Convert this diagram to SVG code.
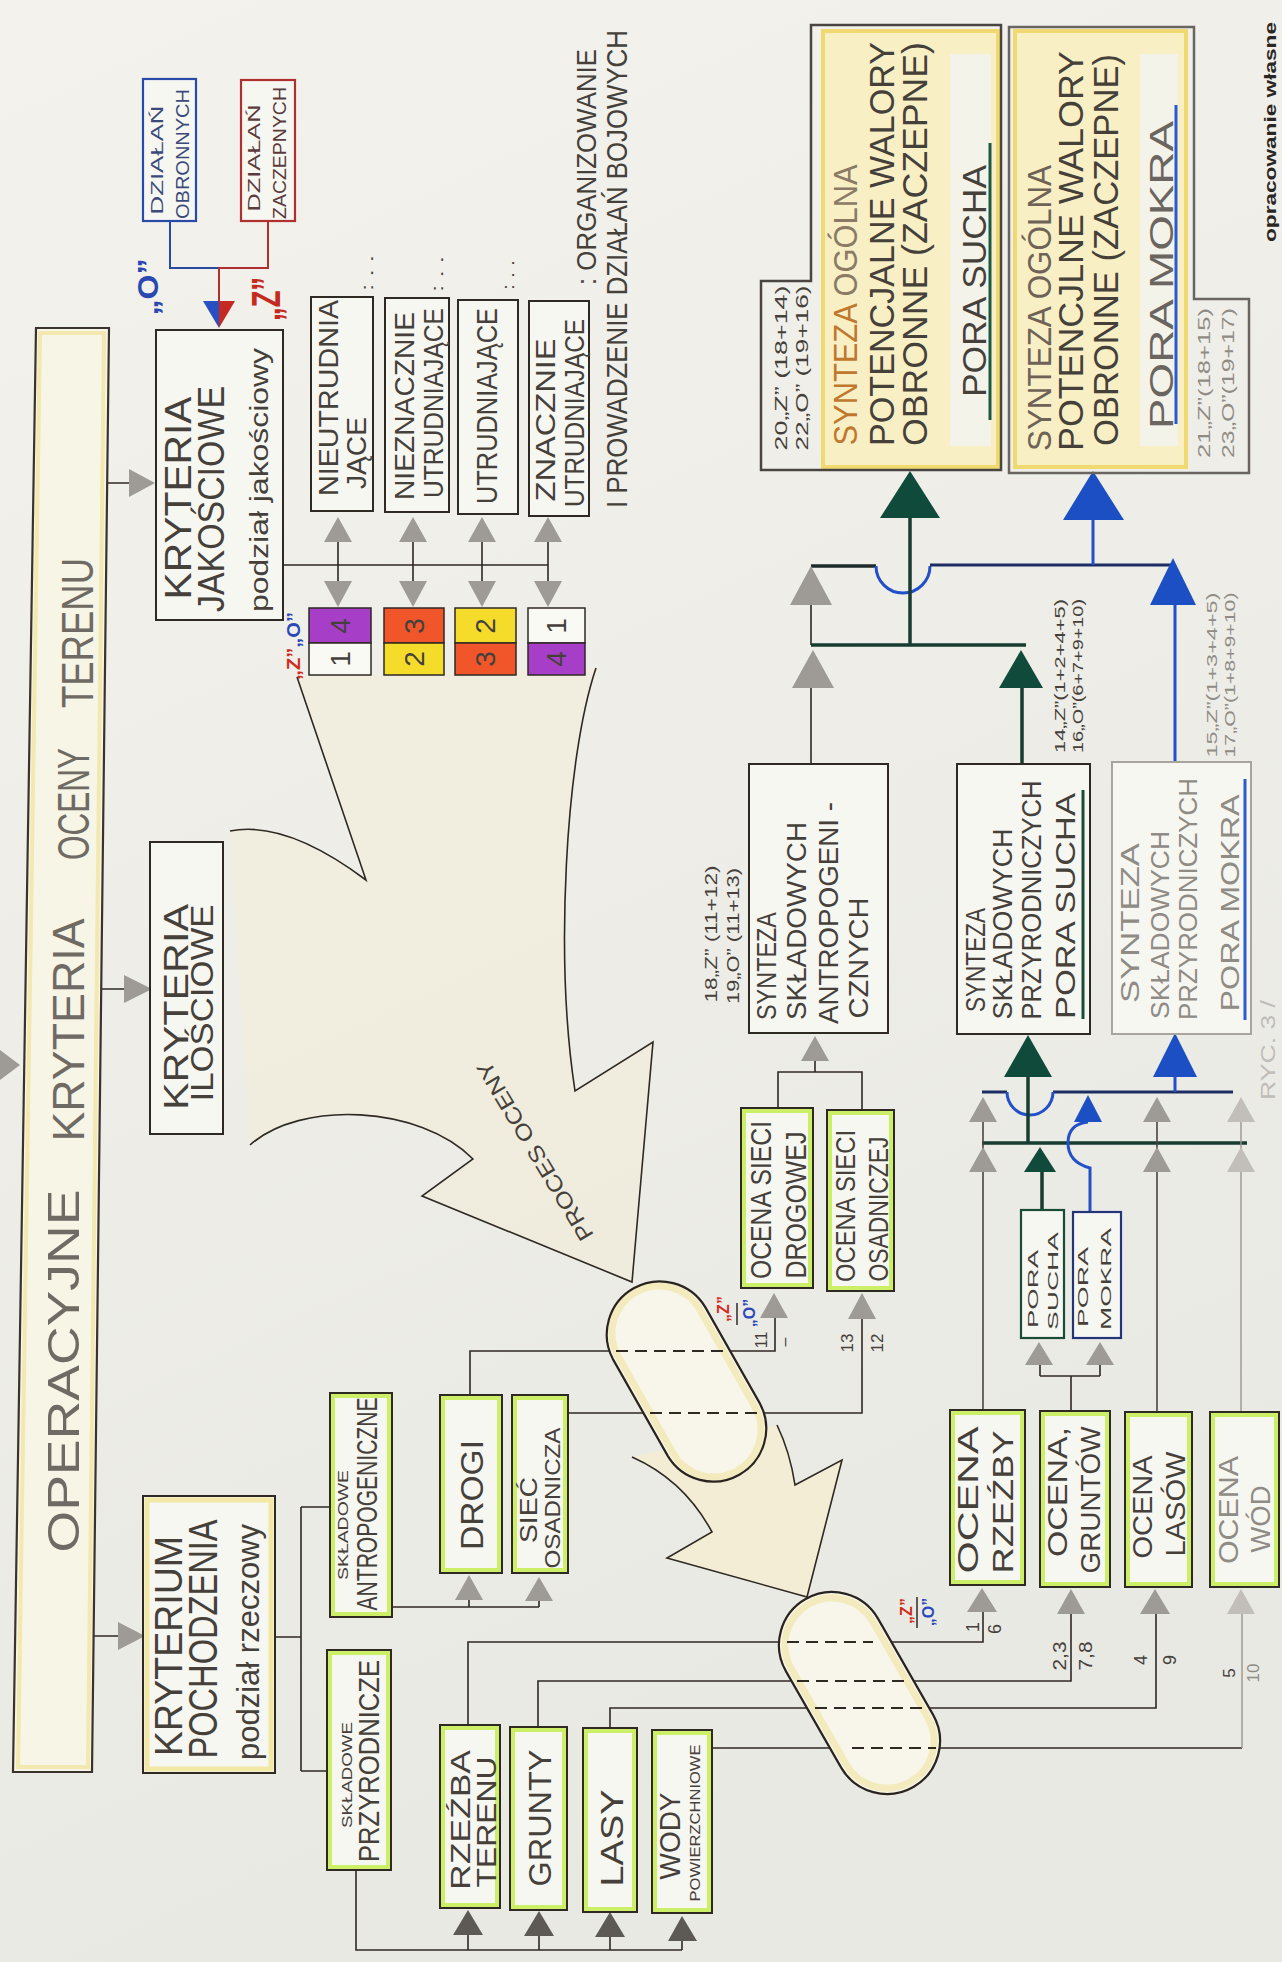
<svg xmlns="http://www.w3.org/2000/svg" width="1282" height="1962" viewBox="0 0 1282 1962">
<defs>
<linearGradient id="paper" x1="0" y1="0" x2="0.3" y2="1">
<stop offset="0" stop-color="#f3f2ec"/>
<stop offset="1" stop-color="#e9e9e4"/>
</linearGradient>
<style>
.ln{fill:none;stroke:#2f2924;stroke-width:1.6}
.lnl{fill:none;stroke:#9a968f;stroke-width:1.4}
.dash{fill:none;stroke:#2f2924;stroke-width:1.8;stroke-dasharray:12 7}
.box{fill:#f7f7f2;stroke:#2f2924;stroke-width:2}
.lime{fill:none;stroke:#c8ec58;stroke-width:4;opacity:.9}
.ylw{fill:none;stroke:#f1e49c;stroke-width:5;opacity:.9}
.tri{fill:#9e9a95}
.tril{fill:#c2bfba}
.trid{fill:#5d5955}
.trig{fill:#0f4a3a}
.trib{fill:#1d4fc4}
.g{stroke:#173d31;stroke-width:3.5;fill:none}
.b{stroke:#2350c8;stroke-width:3;fill:none}
.nv{stroke:#1c2d64;stroke-width:3;fill:none}
.t{font-family:"Liberation Sans",Arial,sans-serif;fill:#45403a;text-anchor:middle;dominant-baseline:central}
.tl{fill:#8f8b85}
.bold{font-weight:bold}
</style>
</defs>

<rect x="0" y="0" width="1282" height="1962" fill="url(#paper)"/>

<!-- process arrows (drawn under the capsules) -->
<g id="process-arrows">
<path d="M297,677 L366,880 Q286,820 230,831 L250,1145 C300,1100 420,1105 473,1159 L422,1196 L632,1282 L653,1042 L575,1091 C555,960 565,760 596,668 Z" fill="#f6efce" opacity=".35"/>
<path d="M297,677 L366,880 Q286,820 230,831" class="ln"/>
<path d="M250,1145 C300,1100 420,1105 473,1159 L422,1196 L632,1282 L653,1042 L575,1091 C555,960 565,760 596,668" class="ln"/>
<text class="t" font-size="22" transform="translate(535,1151) rotate(-121)" textLength="205" lengthAdjust="spacingAndGlyphs">PROCES OCENY</text>
<path d="M632,1457 Q684,1480 712,1532 L667,1558 L807,1597 L842,1460 L795,1485 Q790,1452 777,1425 Z" fill="#f7efc8" opacity=".6"/>
<path d="M632,1457 Q684,1480 712,1532 L667,1558 L807,1597 L842,1460 L795,1485 Q790,1452 777,1425" class="ln"/>
</g>

<!-- evaluation capsules -->
<g id="capsule-1">
<path d="M705.1,1306.9 L760.1,1403.9 A53,53 0 0 1 667.9,1456.1 L612.9,1359.1 A53,53 0 0 1 705.1,1306.9 Z" fill="#f8f6ea"/>
<path d="M699.9,1309.8 L754.9,1406.8 A47,47 0 0 1 673.1,1453.2 L618.1,1356.2 A47,47 0 0 1 699.9,1309.8 Z" fill="none" stroke="#f3ebbe" stroke-width="7"/>
<path d="M705.1,1306.9 L760.1,1403.9 A53,53 0 0 1 667.9,1456.1 L612.9,1359.1 A53,53 0 0 1 705.1,1306.9 Z" fill="none" stroke="#2a2420" stroke-width="2.2"/>
</g>
<g id="capsule-2">
<path d="M878,1618.6 L933,1714.6 A53,53 0 0 1 841,1767.4 L786,1671.4 A53,53 0 0 1 878,1618.6 Z" fill="#f8f6ea"/>
<path d="M872.8,1621.6 L927.8,1717.6 A47,47 0 0 1 846.2,1764.4 L791.2,1668.4 A47,47 0 0 1 872.8,1621.6 Z" fill="none" stroke="#f3ebbe" stroke-width="7"/>
<path d="M878,1618.6 L933,1714.6 A53,53 0 0 1 841,1767.4 L786,1671.4 A53,53 0 0 1 878,1618.6 Z" fill="none" stroke="#2a2420" stroke-width="2.2"/>
</g>

<!-- connectors -->
<g id="connectors">
<path class="ln" d="M107,483 H130 M101,989 H125 M94,1636 H119"/>
<path d="M170,221 V268 H219" fill="none" stroke="#2a4aa0" stroke-width="2"/>
<path d="M268,221 V268 H219 V301" fill="none" stroke="#b03030" stroke-width="2"/>
<path class="ln" d="M283,565 H548 M338,542 V581 M413,542 V581 M482,542 V581 M548,542 V581"/>
<!-- anthropogenic branch -->
<path class="ln" d="M470,1395 V1351 H609 M730,1351 H775 V1318"/>
<path class="dash" d="M616,1351 H728"/>
<path class="ln" d="M568,1413 H644 M764,1413 H862 V1319"/>
<path class="dash" d="M650,1413 H762"/>
<path class="ln" d="M778,1108 V1072 H862 V1110 M815,1072 V1061"/>
<path class="ln" d="M811,764 V688 M811,645 V605"/>
<!-- upper junction -->
<path d="M811,566 H876" stroke="#1e2a2a" stroke-width="3.5" fill="none"/>
<path class="b" d="M876,566 A27,27 0 0 0 930,566"/>
<path class="nv" d="M930,565 H1174"/>
<path class="g" d="M910,518 V645 M811,645 H1026 M1022,688 V764"/>
<path class="b" d="M1093,520 V565 M1175,605 V762" stroke="#2a4aa8"/>
<!-- lower junction -->
<path class="nv" d="M982,1092 H1007 M1053,1092 H1233"/>
<path class="b" d="M1007,1092 A23,23 0 0 0 1053,1092"/>
<path class="g" d="M982,1143 H1247 M1028,1077 V1143 M1042,1172 V1210"/>
<path class="b" d="M1175,1077 V1092 M1090,1212 V1168 Q1068,1162 1068,1143 Q1068,1124 1088,1122"/>
<path d="M983,1410 V1122 M1157,1412 V1122" fill="none" stroke="#4a4540" stroke-width="1.6"/>
<path class="lnl" d="M1241,1412 V1122"/>
<path class="ln" d="M1071,1411 V1376 M1040,1376 H1100 M1040,1376 V1365 M1100,1376 V1365"/>
<!-- natural components through the lower capsule -->
<path class="ln" d="M468,1725 V1642 H779 M891,1642 H983 V1612"/>
<path class="dash" d="M787,1642 H873"/>
<path class="ln" d="M538,1727 V1681 H791 M913,1681 H1071 V1614"/>
<path class="dash" d="M797,1681 H910"/>
<path class="ln" d="M610,1728 V1708 H807 M929,1708 H1156 V1614"/>
<path class="dash" d="M815,1708 H925"/>
<path class="ln" d="M712,1748 H829 M940,1748 H1242"/>
<path class="dash" d="M852,1748 H936"/>
<path class="lnl" d="M1242,1748 V1614"/>
<path class="ln" d="M391,1607 H539 M469,1607 V1600 M539,1607 V1601"/>
<path class="ln" d="M275,1637 H301 M301,1507 V1771 M301,1507 H330 M301,1771 H327"/>
<path class="ln" d="M356,1870 V1950 H682 M468,1950 V1935 M539,1950 V1936 M610,1950 V1937 M682,1950 V1941"/>
</g>

<!-- arrowheads -->
<g id="arrowheads">
<polygon class="tri" points="155,483 129,469 129,497"/>
<polygon class="tri" points="152,989 124,975 124,1003"/>
<polygon class="tri" points="145,1636 118,1622 118,1650"/>
<polygon class="tri" points="20,1065 0,1050 0,1080"/>
<polygon fill="#2a4fc0" points="203,301 219,301 219,328"/>
<polygon fill="#c42a22" points="219,301 235,301 219,328"/>
<polygon class="tri" points="338,517 324,542 352,542"/>
<polygon class="tri" points="413,517 399,542 427,542"/>
<polygon class="tri" points="482,517 468,542 496,542"/>
<polygon class="tri" points="548,517 534,542 562,542"/>
<polygon class="tri" points="338,607 324,581 352,581"/>
<polygon class="tri" points="413,607 399,581 427,581"/>
<polygon class="tri" points="482,607 468,581 496,581"/>
<polygon class="tri" points="548,607 534,581 562,581"/>
<polygon class="tri" points="774,1293 760,1318 788,1318"/>
<polygon class="tri" points="862,1293 848,1319 876,1319"/>
<polygon class="tri" points="815,1036 801,1061 829,1061"/>
<polygon class="tri" points="811,566 790,605 832,605"/>
<polygon class="tri" points="813,650 792,688 834,688"/>
<polygon class="trig" points="910,471 880,518 940,518"/>
<polygon class="trib" points="1093,471 1063,520 1124,520"/>
<polygon class="trib" points="1173,558 1150,605 1196,605"/>
<polygon class="trig" points="1021,650 999,688 1043,688"/>
<polygon class="trig" points="1028,1035 1004,1077 1052,1077"/>
<polygon class="trib" points="1175,1033 1153,1077 1197,1077"/>
<polygon class="tri" points="983,1097 969,1122 997,1122"/>
<polygon class="tri" points="1157,1097 1143,1122 1171,1122"/>
<polygon class="tril" points="1241,1097 1227,1122 1255,1122"/>
<polygon class="trib" points="1088,1095 1074,1122 1102,1122"/>
<polygon class="tri" points="983,1147 969,1172 997,1172"/>
<polygon class="tri" points="1157,1147 1143,1172 1171,1172"/>
<polygon class="tril" points="1241,1147 1227,1172 1255,1172"/>
<polygon class="trig" points="1040,1147 1024,1172 1056,1172"/>
<polygon class="tri" points="1039,1342 1025,1365 1053,1365"/>
<polygon class="tri" points="1100,1342 1086,1365 1114,1365"/>
<polygon class="tri" points="982,1588 967,1612 997,1612"/>
<polygon class="tri" points="1071,1589 1057,1614 1085,1614"/>
<polygon class="tri" points="1155,1589 1140,1614 1170,1614"/>
<polygon class="tril" points="1241,1589 1227,1614 1255,1614"/>
<polygon class="tri" points="469,1575 455,1600 483,1600"/>
<polygon class="tri" points="539,1577 525,1601 553,1601"/>
<polygon class="trid" points="468,1910 453,1935 483,1935"/>
<polygon class="trid" points="539,1911 524,1936 554,1936"/>
<polygon class="trid" points="610,1912 595,1937 625,1937"/>
<polygon class="trid" points="682,1916 668,1941 697,1941"/>
</g>

<!-- title -->
<g id="title">
<polygon points="36,328 109,328 92,1772 13,1772" fill="#f7f5e6" stroke="#3a332d" stroke-width="2.2"/>
<polygon points="40,333 104,333 88,1767 18,1767" fill="none" stroke="#f2e8b0" stroke-width="4"/>
<text class="t" style="fill:#6f6a63" font-size="44" transform="translate(63,1371) rotate(-90)" textLength="363" lengthAdjust="spacingAndGlyphs">OPERACYJNE</text>
<text class="t" style="fill:#6f6a63" font-size="44" transform="translate(68,1030) rotate(-90)" textLength="223" lengthAdjust="spacingAndGlyphs">KRYTERIA</text>
<text class="t" style="fill:#6f6a63" font-size="44" transform="translate(73,804) rotate(-90)" textLength="112" lengthAdjust="spacingAndGlyphs">OCENY</text>
<text class="t" style="fill:#6f6a63" font-size="44" transform="translate(77,633) rotate(-90)" textLength="150" lengthAdjust="spacingAndGlyphs">TERENU</text>
</g>

<!-- qualitative criteria -->
<g id="kryteria-jakosciowe">
<rect class="box" x="156" y="330" width="127" height="290"/>
<text class="t" font-size="37" transform="translate(178,498) rotate(-90)" textLength="203" lengthAdjust="spacingAndGlyphs">KRYTERIA</text>
<text class="t" font-size="37" transform="translate(211,499) rotate(-90)" textLength="226" lengthAdjust="spacingAndGlyphs">JAKOŚCIOWE</text>
<text class="t" font-size="26" transform="translate(259,480) rotate(-90)" textLength="264" lengthAdjust="spacingAndGlyphs">podział jakościowy</text>
</g>
<g id="dzialan-obronnych">
<rect x="143" y="79" width="53" height="142" fill="#f7f7f2" stroke="#2a4aa8" stroke-width="2.2"/>
<text class="t" style="fill:#3b4a7a" font-size="16" transform="translate(157,160) rotate(-90)" textLength="109" lengthAdjust="spacingAndGlyphs">DZIAŁAŃ</text>
<text class="t" style="fill:#3b4a7a" font-size="19" transform="translate(182,154) rotate(-90)" textLength="130" lengthAdjust="spacingAndGlyphs">OBRONNYCH</text>
</g>
<g id="dzialan-zaczepnych">
<rect x="241" y="80" width="54" height="141" fill="#f7f7f2" stroke="#b03030" stroke-width="2.2"/>
<text class="t" style="fill:#5a3a3a" font-size="16" transform="translate(254,158) rotate(-90)" textLength="107" lengthAdjust="spacingAndGlyphs">DZIAŁAŃ</text>
<text class="t" style="fill:#5a3a3a" font-size="19" transform="translate(279,153) rotate(-90)" textLength="132" lengthAdjust="spacingAndGlyphs">ZACZEPNYCH</text>
</g>
<g id="oznaczenia-oz">
<text class="t bold" style="fill:#2a48b0" font-size="30" transform="translate(147,287) rotate(-90)" textLength="57" lengthAdjust="spacingAndGlyphs">„O”</text>
<text class="t bold" style="fill:#c42a20" font-size="40" transform="translate(266,299) rotate(-90)" textLength="44" lengthAdjust="spacingAndGlyphs">„Z”</text>
</g>

<!-- difficulty categories -->
<g id="kat-nieutrudniajace">
<rect class="box" x="311" y="297" width="62" height="214"/>
<text class="t" font-size="28" transform="translate(328,398) rotate(-90)" textLength="196" lengthAdjust="spacingAndGlyphs">NIEUTRUDNIA</text>
<text class="t" font-size="28" transform="translate(356,453) rotate(-90)" textLength="72" lengthAdjust="spacingAndGlyphs">JĄCE</text>
<text class="t" font-size="16" transform="translate(367,273) rotate(-90)" textLength="36" lengthAdjust="spacingAndGlyphs">: . .</text>
</g>
<g id="kat-nieznacznie">
<rect class="box" x="385" y="298" width="64" height="214"/>
<text class="t" font-size="28" transform="translate(404,406) rotate(-90)" textLength="188" lengthAdjust="spacingAndGlyphs">NIEZNACZNIE</text>
<text class="t" font-size="28" transform="translate(433,403) rotate(-90)" textLength="190" lengthAdjust="spacingAndGlyphs">UTRUDNIAJĄCE</text>
<text class="t" font-size="16" transform="translate(437,274) rotate(-90)" textLength="36" lengthAdjust="spacingAndGlyphs">: . .</text>
</g>
<g id="kat-utrudniajace">
<rect class="box" x="458" y="300" width="60" height="214"/>
<text class="t" font-size="30" transform="translate(486,406) rotate(-90)" textLength="196" lengthAdjust="spacingAndGlyphs">UTRUDNIAJĄCE</text>
<text class="t" font-size="16" transform="translate(508,275) rotate(-90)" textLength="30" lengthAdjust="spacingAndGlyphs">: . .</text>
</g>
<g id="kat-znacznie">
<rect class="box" x="529" y="301" width="60" height="215"/>
<text class="t" font-size="27" transform="translate(546,420) rotate(-90)" textLength="163" lengthAdjust="spacingAndGlyphs">ZNACZNIE</text>
<text class="t" font-size="27" transform="translate(575,413) rotate(-90)" textLength="188" lengthAdjust="spacingAndGlyphs">UTRUDNIAJĄCE</text>
</g>
<g id="opis-kategorii">
<text class="t" font-size="28" transform="translate(586,167) rotate(-90)" textLength="236" lengthAdjust="spacingAndGlyphs">: ORGANIZOWANIE</text>
<text class="t" font-size="29" transform="translate(617,269) rotate(-90) scale(0.89,1)">I PROWADZENIE DZIAŁAŃ BOJOWYCH</text>
</g>

<!-- category scores for "Z" and "O" -->
<g id="oceny-kategorii">
<rect x="309" y="608" width="62" height="35" fill="#a63ec8" stroke="#2f2924" stroke-width="1.5"/>
<rect x="309" y="643" width="62" height="32" fill="#fafaf5" stroke="#2f2924" stroke-width="1.5"/>
<rect x="384" y="608" width="60" height="35" fill="#f0562a" stroke="#2f2924" stroke-width="1.5"/>
<rect x="384" y="643" width="60" height="32" fill="#f6dc2a" stroke="#2f2924" stroke-width="1.5"/>
<rect x="455" y="608" width="61" height="35" fill="#f6dc2a" stroke="#2f2924" stroke-width="1.5"/>
<rect x="455" y="643" width="61" height="32" fill="#f0562a" stroke="#2f2924" stroke-width="1.5"/>
<rect x="528" y="608" width="57" height="35" fill="#fafaf5" stroke="#2f2924" stroke-width="1.5"/>
<rect x="528" y="643" width="57" height="32" fill="#a63ec8" stroke="#2f2924" stroke-width="1.5"/>
<text class="t" font-size="28" transform="translate(340,626) rotate(-90)">4</text>
<text class="t" font-size="28" transform="translate(340,659) rotate(-90)">1</text>
<text class="t" font-size="28" transform="translate(414,626) rotate(-90)">3</text>
<text class="t" font-size="28" transform="translate(414,659) rotate(-90)">2</text>
<text class="t" font-size="28" transform="translate(485,626) rotate(-90)">2</text>
<text class="t" font-size="28" transform="translate(485,659) rotate(-90)">3</text>
<text class="t" font-size="28" transform="translate(556,626) rotate(-90)">1</text>
<text class="t" font-size="28" transform="translate(556,659) rotate(-90)">4</text>
<text class="t bold" font-size="19" transform="translate(293,646) rotate(-90)" textLength="68" lengthAdjust="spacingAndGlyphs"><tspan style="fill:#d02a20">„Z”</tspan><tspan style="fill:#2a48b8">„O”</tspan></text>
</g>

<g id="kryteria-ilosciowe">
<rect class="box" x="150" y="842" width="73" height="292"/>
<text class="t" font-size="35" transform="translate(175,1007) rotate(-90)" textLength="206" lengthAdjust="spacingAndGlyphs">KRYTERIA</text>
<text class="t" font-size="32" transform="translate(202,1003) rotate(-90)" textLength="197" lengthAdjust="spacingAndGlyphs">ILOŚCIOWE</text>
</g>

<g id="kryterium-pochodzenia">
<rect class="box" x="143" y="1496" width="132" height="277"/>
<rect class="ylw" x="147" y="1500" width="124" height="269"/>
<text class="t" font-size="39" transform="translate(168,1646) rotate(-90)" textLength="220" lengthAdjust="spacingAndGlyphs">KRYTERIUM</text>
<text class="t" font-size="41" transform="translate(203,1639) rotate(-90)" textLength="239" lengthAdjust="spacingAndGlyphs">POCHODZENIA</text>
<text class="t" font-size="31" transform="translate(248,1642) rotate(-90)" textLength="236" lengthAdjust="spacingAndGlyphs">podział rzeczowy</text>
</g>

<g id="skladowe-antropogeniczne">
<rect class="box" x="330" y="1393" width="62" height="224"/>
<rect class="lime" x="333" y="1396" width="56" height="218"/>
<text class="t" font-size="15" transform="translate(342,1525) rotate(-90)" textLength="110" lengthAdjust="spacingAndGlyphs">SKŁADOWE</text>
<text class="t" font-size="29" transform="translate(367,1504) rotate(-90)" textLength="213" lengthAdjust="spacingAndGlyphs">ANTROPOGENICZNE</text>
</g>
<g id="skladowe-przyrodnicze">
<rect class="box" x="327" y="1650" width="64" height="220"/>
<rect class="lime" x="330" y="1653" width="58" height="214"/>
<text class="t" font-size="15" transform="translate(346,1775) rotate(-90)" textLength="106" lengthAdjust="spacingAndGlyphs">SKŁADOWE</text>
<text class="t" font-size="29" transform="translate(369,1761) rotate(-90)" textLength="202" lengthAdjust="spacingAndGlyphs">PRZYRODNICZE</text>
</g>
<g id="drogi">
<rect class="box" x="440" y="1395" width="62" height="178"/>
<rect class="lime" x="443" y="1398" width="56" height="172"/>
<text class="t" font-size="32" transform="translate(472,1495) rotate(-90)" textLength="110" lengthAdjust="spacingAndGlyphs">DROGI</text>
</g>
<g id="siec-osadnicza">
<rect class="box" x="512" y="1395" width="56" height="178"/>
<rect class="lime" x="515" y="1398" width="50" height="172"/>
<text class="t" font-size="24" transform="translate(528,1510) rotate(-90)" textLength="66" lengthAdjust="spacingAndGlyphs">SIEĆ</text>
<text class="t" font-size="22" transform="translate(552,1498) rotate(-90)" textLength="141" lengthAdjust="spacingAndGlyphs">OSADNICZA</text>
</g>
<g id="rzezba-terenu">
<rect class="box" x="440" y="1725" width="60" height="183"/>
<rect class="lime" x="443" y="1728" width="54" height="177"/>
<text class="t" font-size="28" transform="translate(460,1820) rotate(-90)" textLength="140" lengthAdjust="spacingAndGlyphs">RZEŹBA</text>
<text class="t" font-size="28" transform="translate(486,1822) rotate(-90)" textLength="131" lengthAdjust="spacingAndGlyphs">TERENU</text>
</g>
<g id="grunty">
<rect class="box" x="510" y="1727" width="57" height="183"/>
<rect class="lime" x="513" y="1730" width="51" height="177"/>
<text class="t" font-size="32" transform="translate(540,1818) rotate(-90)" textLength="137" lengthAdjust="spacingAndGlyphs">GRUNTY</text>
</g>
<g id="lasy">
<rect class="box" x="583" y="1728" width="54" height="184"/>
<rect class="lime" x="586" y="1731" width="48" height="178"/>
<text class="t" font-size="32" transform="translate(612,1838) rotate(-90)" textLength="97" lengthAdjust="spacingAndGlyphs">LASY</text>
</g>
<g id="wody">
<rect class="box" x="652" y="1730" width="60" height="183"/>
<rect class="lime" x="655" y="1733" width="54" height="177"/>
<text class="t" font-size="30" transform="translate(669,1836) rotate(-90)" textLength="87" lengthAdjust="spacingAndGlyphs">WODY</text>
<text class="t" font-size="15" transform="translate(694,1823) rotate(-90)" textLength="157" lengthAdjust="spacingAndGlyphs">POWIERZCHNIOWE</text>
</g>

<!-- line numbers and Z/O legends -->
<g id="numeracja">
<text class="t bold" style="fill:#d02a20" font-size="16" transform="translate(723,1309) rotate(-90)">„Z”</text>
<path d="M737,1303 V1325" stroke="#2f2924" stroke-width="1.5"/>
<text class="t bold" style="fill:#2a48b8" font-size="16" transform="translate(749,1313) rotate(-90)">„O”</text>
<text class="t" font-size="16" transform="translate(761,1340) rotate(-90)">11</text>
<text class="t" font-size="16" transform="translate(784,1342) rotate(-90)">–</text>
<text class="t" font-size="17" transform="translate(847,1343) rotate(-90)">13</text>
<text class="t" font-size="17" transform="translate(877,1343) rotate(-90)">12</text>
<text class="t bold" style="fill:#d02a20" font-size="16" transform="translate(906,1611) rotate(-90)">„Z”</text>
<path d="M917,1597 V1628" stroke="#2f2924" stroke-width="1.5"/>
<text class="t bold" style="fill:#2a48b8" font-size="16" transform="translate(928,1612) rotate(-90)">„O”</text>
<text class="t" font-size="18" transform="translate(973,1627) rotate(-90)">1</text>
<text class="t" font-size="18" transform="translate(995,1629) rotate(-90)">6</text>
<text class="t" font-size="18" transform="translate(1060,1656) rotate(-90)" textLength="29" lengthAdjust="spacingAndGlyphs">2,3</text>
<text class="t" font-size="18" transform="translate(1086,1656) rotate(-90)" textLength="29" lengthAdjust="spacingAndGlyphs">7,8</text>
<text class="t" font-size="18" transform="translate(1141,1660) rotate(-90)">4</text>
<text class="t" font-size="18" transform="translate(1170,1660) rotate(-90)">9</text>
<text class="t" font-size="17" transform="translate(1229,1673) rotate(-90)">5</text>
<text class="t tl" font-size="17" transform="translate(1253,1673) rotate(-90)">10</text>
</g>

<!-- anthropogenic evaluation -->
<g id="ocena-sieci-drogowej">
<rect class="box" x="741" y="1108" width="72" height="180"/>
<rect class="lime" x="744" y="1111" width="66" height="174"/>
<text class="t" font-size="30" transform="translate(760,1200) rotate(-90)" textLength="158" lengthAdjust="spacingAndGlyphs">OCENA SIECI</text>
<text class="t" font-size="30" transform="translate(795,1205) rotate(-90)" textLength="147" lengthAdjust="spacingAndGlyphs">DROGOWEJ</text>
</g>
<g id="ocena-sieci-osadniczej">
<rect class="box" x="827" y="1110" width="67" height="181"/>
<rect class="lime" x="830" y="1113" width="61" height="175"/>
<text class="t" font-size="28" transform="translate(845,1206) rotate(-90)" textLength="152" lengthAdjust="spacingAndGlyphs">OCENA SIECI</text>
<text class="t" font-size="28" transform="translate(878,1209) rotate(-90)" textLength="145" lengthAdjust="spacingAndGlyphs">OSADNICZEJ</text>
</g>
<g id="synteza-antropogenicznych">
<rect class="box" x="749" y="764" width="139" height="269"/>
<text class="t" font-size="28" transform="translate(766,966) rotate(-90)" textLength="108" lengthAdjust="spacingAndGlyphs">SYNTEZA</text>
<text class="t" font-size="28" transform="translate(796,921) rotate(-90)" textLength="198" lengthAdjust="spacingAndGlyphs">SKŁADOWYCH</text>
<text class="t" font-size="28" transform="translate(828,913) rotate(-90)" textLength="222" lengthAdjust="spacingAndGlyphs">ANTROPOGENI -</text>
<text class="t" font-size="28" transform="translate(858,958) rotate(-90)" textLength="121" lengthAdjust="spacingAndGlyphs">CZNYCH</text>
<text class="t" font-size="16" transform="translate(711,934) rotate(-90)" textLength="137" lengthAdjust="spacingAndGlyphs">18„Z” (11+12)</text>
<text class="t" font-size="16" transform="translate(733,936) rotate(-90)" textLength="136" lengthAdjust="spacingAndGlyphs">19„O” (11+13)</text>
</g>

<!-- natural synthesis -->
<g id="synteza-przyrodniczych-sucha">
<rect class="box" x="957" y="764" width="133" height="270"/>
<text class="t" font-size="27" transform="translate(976,960) rotate(-90)" textLength="104" lengthAdjust="spacingAndGlyphs">SYNTEZA</text>
<text class="t" font-size="27" transform="translate(1003,924) rotate(-90)" textLength="191" lengthAdjust="spacingAndGlyphs">SKŁADOWYCH</text>
<text class="t" font-size="27" transform="translate(1032,900) rotate(-90)" textLength="239" lengthAdjust="spacingAndGlyphs">PRZYRODNICZYCH</text>
<text class="t" font-size="27" transform="translate(1066,906) rotate(-90)" textLength="226" lengthAdjust="spacingAndGlyphs">PORA SUCHA</text>
<path d="M1083,790 V1019" stroke="#1a4a3a" stroke-width="3"/>
<text class="t" font-size="15" transform="translate(1059,676) rotate(-90)" textLength="154" lengthAdjust="spacingAndGlyphs">14„Z”(1+2+4+5)</text>
<text class="t" font-size="15" transform="translate(1077,676) rotate(-90)" textLength="154" lengthAdjust="spacingAndGlyphs">16„O”(6+7+9+10)</text>
</g>
<g id="synteza-przyrodniczych-mokra">
<rect x="1112" y="762" width="139" height="272" fill="#f7f7f2" stroke="#a8a49e" stroke-width="2"/>
<text class="t tl" font-size="26" transform="translate(1130,923) rotate(-90)" textLength="160" lengthAdjust="spacingAndGlyphs">SYNTEZA</text>
<text class="t tl" font-size="26" transform="translate(1160,925) rotate(-90)" textLength="188" lengthAdjust="spacingAndGlyphs">SKŁADOWYCH</text>
<text class="t tl" font-size="26" transform="translate(1188,899) rotate(-90)" textLength="242" lengthAdjust="spacingAndGlyphs">PRZYRODNICZYCH</text>
<text class="t tl" font-size="26" transform="translate(1230,903) rotate(-90)" textLength="217" lengthAdjust="spacingAndGlyphs">PORA MOKRA</text>
<path d="M1245,779 V1020" stroke="#2a5ad0" stroke-width="3"/>
<text class="t tl" font-size="15" transform="translate(1211,675) rotate(-90)" textLength="165" lengthAdjust="spacingAndGlyphs">15„Z”(1+3+4+5)</text>
<text class="t tl" font-size="15" transform="translate(1229,675) rotate(-90)" textLength="165" lengthAdjust="spacingAndGlyphs">17„O”(1+8+9+10)</text>
</g>

<g id="pora-sucha">
<rect x="1021" y="1210" width="43" height="128" fill="#f7f7f2" stroke="#1a4a38" stroke-width="2.2"/>
<text class="t" font-size="15" transform="translate(1032,1289) rotate(-90)" textLength="78" lengthAdjust="spacingAndGlyphs">PORA</text>
<text class="t" font-size="15" transform="translate(1052,1281) rotate(-90)" textLength="98" lengthAdjust="spacingAndGlyphs">SUCHA</text>
</g>
<g id="pora-mokra">
<rect x="1073" y="1212" width="48" height="126" fill="#f7f7f2" stroke="#23347a" stroke-width="2.2"/>
<text class="t" font-size="15" transform="translate(1082,1287) rotate(-90)" textLength="80" lengthAdjust="spacingAndGlyphs">PORA</text>
<text class="t" font-size="15" transform="translate(1105,1279) rotate(-90)" textLength="102" lengthAdjust="spacingAndGlyphs">MOKRA</text>
</g>

<g id="ocena-rzezby">
<rect class="box" x="950" y="1410" width="75" height="175"/>
<rect class="lime" x="953" y="1413" width="69" height="169"/>
<text class="t" font-size="29" transform="translate(968,1500) rotate(-90)" textLength="147" lengthAdjust="spacingAndGlyphs">OCENA</text>
<text class="t" font-size="29" transform="translate(1003,1502) rotate(-90)" textLength="143" lengthAdjust="spacingAndGlyphs">RZEŹBY</text>
</g>
<g id="ocena-gruntow">
<rect class="box" x="1040" y="1411" width="70" height="176"/>
<rect class="lime" x="1043" y="1414" width="64" height="170"/>
<text class="t" font-size="28" transform="translate(1057,1492) rotate(-90)" textLength="130" lengthAdjust="spacingAndGlyphs">OCENA,</text>
<text class="t" font-size="28" transform="translate(1090,1500) rotate(-90)" textLength="147" lengthAdjust="spacingAndGlyphs">GRUNTÓW</text>
</g>
<g id="ocena-lasow">
<rect class="box" x="1125" y="1412" width="67" height="175"/>
<rect class="lime" x="1128" y="1415" width="61" height="169"/>
<text class="t" font-size="28" transform="translate(1142,1507) rotate(-90)" textLength="103" lengthAdjust="spacingAndGlyphs">OCENA</text>
<text class="t" font-size="28" transform="translate(1175,1504) rotate(-90)" textLength="105" lengthAdjust="spacingAndGlyphs">LASÓW</text>
</g>
<g id="ocena-wod">
<rect class="box" x="1210" y="1412" width="69" height="175"/>
<rect class="lime" x="1213" y="1415" width="63" height="169"/>
<text class="t tl" font-size="28" transform="translate(1228,1510) rotate(-90)" textLength="108" lengthAdjust="spacingAndGlyphs">OCENA</text>
<text class="t tl" font-size="28" transform="translate(1260,1519) rotate(-90)" textLength="67" lengthAdjust="spacingAndGlyphs">WÓD</text>
</g>

<!-- general synthesis -->
<g id="synteza-ogolna-sucha">
<rect x="823" y="31" width="175" height="436" fill="#f8f0c4" stroke="#f0da70" stroke-width="4"/>
<rect x="950" y="54" width="41" height="392" fill="#f4f3ea"/>
<path d="M811,25 H1001 V470 H761 V281 H811 Z" fill="none" stroke="#4a4540" stroke-width="2.5"/>
<text class="t" font-size="34" transform="translate(845,305) rotate(-90)" textLength="281" lengthAdjust="spacingAndGlyphs"><tspan style="fill:#c0782e">SYNTEZA</tspan><tspan style="fill:#8a7a66"> OGÓLNA</tspan></text>
<text class="t" font-size="35" transform="translate(881,244) rotate(-90)" textLength="404" lengthAdjust="spacingAndGlyphs">POTENCJALNE WALORY</text>
<text class="t" font-size="35" transform="translate(914,244) rotate(-90)" textLength="404" lengthAdjust="spacingAndGlyphs">OBRONNE (ZACZEPNE)</text>
<text class="t" font-size="33" transform="translate(974,281) rotate(-90)" textLength="232" lengthAdjust="spacingAndGlyphs">PORA SUCHA</text>
<path d="M990,143 V420" stroke="#1a5a44" stroke-width="3"/>
<text class="t" font-size="17" transform="translate(781,368) rotate(-90)" textLength="165" lengthAdjust="spacingAndGlyphs">20„Z” (18+14)</text>
<text class="t" font-size="17" transform="translate(802,368) rotate(-90)" textLength="165" lengthAdjust="spacingAndGlyphs">22„O” (19+16)</text>
</g>
<g id="synteza-ogolna-mokra">
<rect x="1015" y="31" width="171" height="436" fill="#f8f0c4" stroke="#f0da70" stroke-width="4"/>
<rect x="1140" y="54" width="38" height="392" fill="#f4f3ea"/>
<path d="M1009,27 H1194 V299 H1249 V473 H1009 Z" fill="none" stroke="#6a6560" stroke-width="2.5"/>
<text class="t" style="fill:#6f6256" font-size="33" transform="translate(1039,308) rotate(-90)" textLength="286" lengthAdjust="spacingAndGlyphs">SYNTEZA OGÓLNA</text>
<text class="t" font-size="35" transform="translate(1070,251) rotate(-90)" textLength="400" lengthAdjust="spacingAndGlyphs">POTENCJLNE WALORY</text>
<text class="t" font-size="35" transform="translate(1105,250) rotate(-90)" textLength="392" lengthAdjust="spacingAndGlyphs">OBRONNE (ZACZEPNE)</text>
<text class="t" style="fill:#6a655e" font-size="33" transform="translate(1161,275) rotate(-90)" textLength="308" lengthAdjust="spacingAndGlyphs">PORA MOKRA</text>
<path d="M1176,105 V424" stroke="#2a5ad0" stroke-width="3"/>
<text class="t tl" font-size="16" transform="translate(1204,383) rotate(-90)" textLength="150" lengthAdjust="spacingAndGlyphs">21„Z”(18+15)</text>
<text class="t tl" font-size="16" transform="translate(1228,383) rotate(-90)" textLength="150" lengthAdjust="spacingAndGlyphs">23„O”(19+17)</text>
</g>

<g id="podpis">
<text class="t bold" style="fill:#2a2622" font-size="17" transform="translate(1270,132) rotate(-90)" textLength="220" lengthAdjust="spacingAndGlyphs">opracowanie własne</text>
<text class="t" style="fill:#c0bdb8" font-size="20" transform="translate(1268,1050) rotate(-90)" textLength="100" lengthAdjust="spacingAndGlyphs">RYC. 3 /</text>
</g>
</svg>
